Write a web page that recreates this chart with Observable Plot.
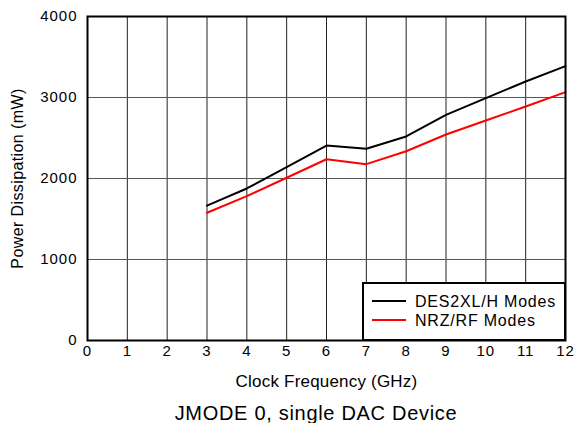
<!DOCTYPE html>
<html>
<head>
<meta charset="utf-8">
<script src="https://cdn.jsdelivr.net/npm/d3@7"></script>
<script src="https://cdn.jsdelivr.net/npm/@observablehq/plot@0.6"></script>
<style>
  html, body { margin: 0; padding: 0; background: #fff; font-family: "Liberation Sans", Arial, sans-serif; }
  #chart { width: 576px; height: 395px; }
  #caption { box-sizing: border-box; width: 576px; padding-left: 56px; text-align: center; font-size: 20px; line-height: 20px; letter-spacing: 0.7px; color: #000; margin-top: 8px; }
  #chart svg g[aria-label="x-axis tick label"] text,
  #chart svg g[aria-label="y-axis tick label"] text { letter-spacing: 1px; }
  #chart svg g[aria-label="x-axis label"] text { letter-spacing: 0.2px; }
  #chart svg g[aria-label="y-axis label"] text { letter-spacing: 0.4px; }
</style>
</head>
<body>
<div id="chart"></div>
<div id="caption">JMODE 0, single DAC Device</div>
<script>
const freqs = [3, 4, 5, 6, 7, 8, 9, 10, 11, 12];
const des2xlPower = [1665, 1877, 2140, 2407, 2367, 2519, 2786, 2992, 3198, 3387];
const nrzPower = [1577, 1782, 2009, 2238, 2177, 2337, 2543, 2716, 2889, 3066];
const seriesNames = ["DES2XL/H Modes", "NRZ/RF Modes"];
const seriesColors = ["#000000", "#ff0000"];
const xTicks = [0, 1, 2, 3, 4, 5, 6, 7, 8, 9, 10, 11, 12];
const yTicks = [0, 1000, 2000, 3000, 4000];

const rows = [];
[des2xlPower, nrzPower].forEach((vals, si) => {
  vals.forEach((v, i) => rows.push({series: seriesNames[si], freq: freqs[i], power: v}));
});

const plot = Plot.plot({
  width: 576,
  height: 395,
  marginLeft: 87,
  marginRight: 11,
  marginTop: 16,
  marginBottom: 55,
  style: {fontFamily: "'Liberation Sans', Arial, sans-serif", fontSize: "15px", color: "#000", background: "#fff"},
  x: {domain: [0, 12]},
  y: {domain: [0, 4000]},
  color: {domain: seriesNames, range: seriesColors},
  marks: [
    Plot.gridX(xTicks, {stroke: "#222", strokeOpacity: 1, strokeWidth: 1}),
    Plot.gridY(yTicks, {stroke: "#555", strokeOpacity: 1, strokeWidth: 1}),
    Plot.lineY(rows, {x: "freq", y: "power", z: "series", stroke: "series", strokeWidth: 2}),
    Plot.axisX({ticks: xTicks, tickSize: 0, tickPadding: 5, fontSize: 15, tickFormat: d => String(d), label: null}),
    Plot.axisX({ticks: [], label: "Clock Frequency (GHz)", labelAnchor: "center", labelOffset: 46, labelArrow: "none", fontSize: 17}),
    Plot.axisY({ticks: yTicks, tickSize: 0, tickPadding: 10, fontSize: 15, tickFormat: d => String(d), label: null}),
    Plot.axisY({ticks: [], label: "Power Dissipation (mW)", labelAnchor: "center", labelOffset: 76, labelArrow: "none", fontSize: 16}),
    Plot.frame({stroke: "#000", strokeWidth: 2}),
    // legend box drawn relative to the frame
    (index, scales, values, dims) => {
      const svgns = "http://www.w3.org/2000/svg";
      const g = document.createElementNS(svgns, "g");
      g.setAttribute("aria-label", "legend");
      const right = dims.width - dims.marginRight;
      const bottom = dims.height - dims.marginBottom;
      const bw = 202, bh = 57;
      const x0 = right - bw, y0 = bottom - bh;
      const r = document.createElementNS(svgns, "rect");
      r.setAttribute("x", x0); r.setAttribute("y", y0);
      r.setAttribute("width", bw); r.setAttribute("height", bh);
      r.setAttribute("fill", "#fff"); r.setAttribute("stroke", "#000"); r.setAttribute("stroke-width", 2);
      g.appendChild(r);
      seriesNames.forEach((name, i) => {
        const yy = y0 + 18 + i * 19;
        const l = document.createElementNS(svgns, "line");
        l.setAttribute("x1", x0 + 9); l.setAttribute("x2", x0 + 43);
        l.setAttribute("y1", yy); l.setAttribute("y2", yy);
        l.setAttribute("stroke", seriesColors[i]); l.setAttribute("stroke-width", 2);
        g.appendChild(l);
        const t = document.createElementNS(svgns, "text");
        t.setAttribute("x", x0 + 52); t.setAttribute("y", yy);
        t.setAttribute("dy", "0.35em");
        t.setAttribute("text-anchor", "start");
        t.setAttribute("font-size", 16);
        t.setAttribute("letter-spacing", "0.8px");
        t.setAttribute("fill", "#000");
        t.textContent = name;
        g.appendChild(t);
      });
      return g;
    }
  ]
});
document.getElementById("chart").appendChild(plot);
</script>
</body>
</html>
